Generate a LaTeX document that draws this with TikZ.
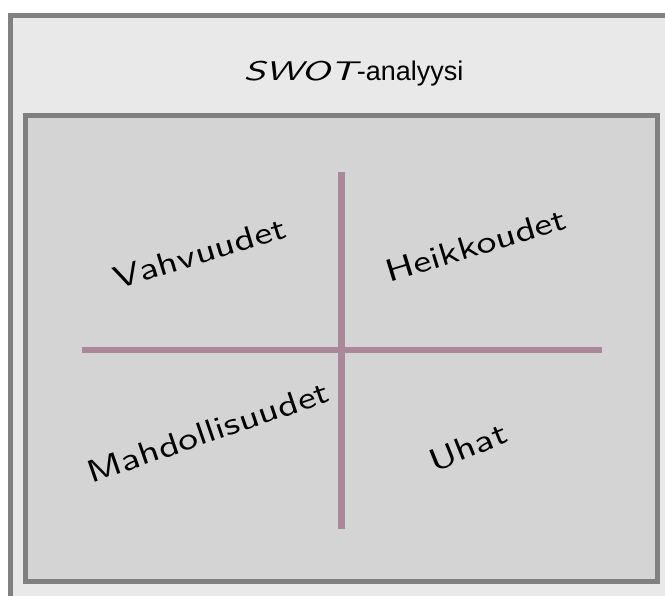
\documentclass[tikz,border=0pt]{standalone}
\usepackage{fontspec}
\newfontfamily\arialfont{Liberation Sans}
\newfontfamily\handfont[Extension=.otf, FakeStretch=1.27]{lmsans10-regular}
\newfontfamily\swotfont[Extension=.otf, FakeStretch=1.45]{lmsans10-oblique}
\definecolor{outerfill}{RGB}{233,233,233}
\definecolor{innerfill}{RGB}{212,212,212}
\definecolor{framegray}{RGB}{128,128,128}
\definecolor{crossmauve}{RGB}{168,136,153}
\tikzset{
  framebox/.style={draw=framegray, line width=4.5pt},
  crossline/.style={draw=crossmauve, line width=6.5pt},
  handlabel/.style={inner sep=0pt, font=\handfont\fontsize{31.5}{33}\selectfont},
}
\begin{document}
\begin{tikzpicture}[x=1pt,y=-1pt]
\useasboundingbox (0,0) rectangle (665,596);
\clip (0,0) rectangle (665,596);
\fill[white] (0,0) rectangle (665,596);
% outer frame
\path[framebox, fill=outerfill] (10.5,15.5) rectangle (690,620);
% inner frame
\path[framebox, fill=innerfill] (25.5,115.5) rectangle (657.5,581.5);
% title
\node[inner sep=0pt, anchor=base] (title) at (353.5,81)
  {{\swotfont\fontsize{27}{29}\selectfont SWOT}{\arialfont\fontsize{27}{29}\selectfont-analyysi}};
% cross
\coordinate (vtop) at (341.5,172);
\coordinate (vbot) at (341.5,529);
\coordinate (hleft) at (82,350);
\coordinate (hright) at (602,350);
\path[crossline] (vtop) -- (vbot);
\path[crossline] (hleft) -- (hright);
% labels
\node[handlabel, rotate=17] (s) at (200,253) {Vahvuudet};
\node[handlabel, rotate=17] (w) at (476,245) {Heikkoudet};
\node[handlabel, rotate=19] (o) at (208,432) {Mahdollisuudet};
\node[handlabel, rotate=22] (t) at (468,447) {Uhat};
\end{tikzpicture}
\end{document}
